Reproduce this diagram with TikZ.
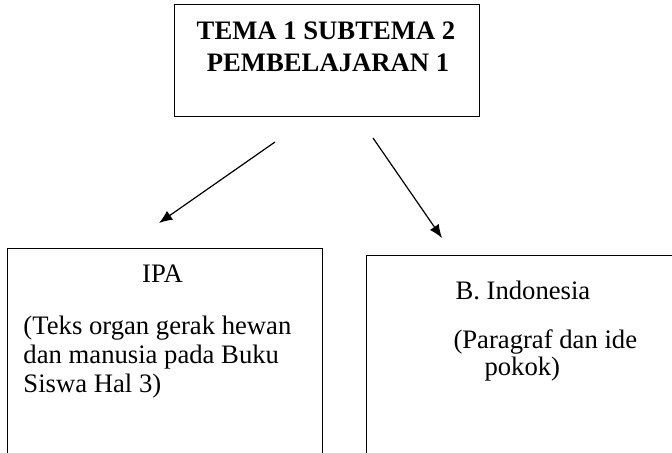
\documentclass[tikz,border=0pt]{standalone}
\usepackage{fontspec}
\setmainfont{Liberation Serif}
\usetikzlibrary{arrows.meta}

\tikzset{every picture/.style={line width=0.75pt}}
\tikzset{kotak/.style={draw, rectangle, inner sep=0pt},
	teks/.style={font=\fontsize{20}{24}\selectfont, inner sep=0pt},
	panah/.style={line width=0.9pt, -{Latex[length=10pt,width=8pt]}}}

\begin{document}
\begin{tikzpicture}[x=0.75pt,y=0.75pt,yscale=-1,xscale=1]
		%set diagram left start at 0, and has height of 453
		\clip (0,0) rectangle (672,453);

		\draw (326.5,61) node (tema) [kotak, minimum width=305*0.75pt, minimum height=112*0.75pt] {};
		\draw (164.5,359) node (ipa) [kotak, minimum width=315*0.75pt, minimum height=222*0.75pt] {};
		\draw (523,362.5) node (bind) [kotak, minimum width=314*0.75pt, minimum height=215*0.75pt] {};

		\coordinate (a1) at (275,142);
		\coordinate (a2) at (159,223);
		\coordinate (b1) at (373,138);
		\coordinate (b2) at (442,238);
		\draw [panah] (a1) -- (a2) ;
		\draw [panah] (b1) -- (b2) ;



		\draw (326,40) node (judul1) [teks, anchor=base] {\textbf{TEMA 1 SUBTEMA 2}};
		\draw (328,72) node (judul2) [teks, anchor=base] {\textbf{PEMBELAJARAN 1}};
		\draw (162.5,282) node (ipa0) [teks, anchor=base] {IPA};
		\draw (23,334) node (ipa1) [teks, anchor=base west] {(Teks organ gerak hewan};
		\draw (23,363) node (ipa2) [teks, anchor=base west] {dan manusia pada Buku};
		\draw (23,392) node (ipa3) [teks, anchor=base west] {Siswa Hal 3)};
		\draw (455,299) node (bind0) [teks, anchor=base west] {B. Indonesia};
		\draw (453,348) node (bind1) [teks, anchor=base west] {(Paragraf dan ide};
		\draw (484,375) node (bind2) [teks, anchor=base west] {pokok)};


		\end{tikzpicture}
\end{document}
